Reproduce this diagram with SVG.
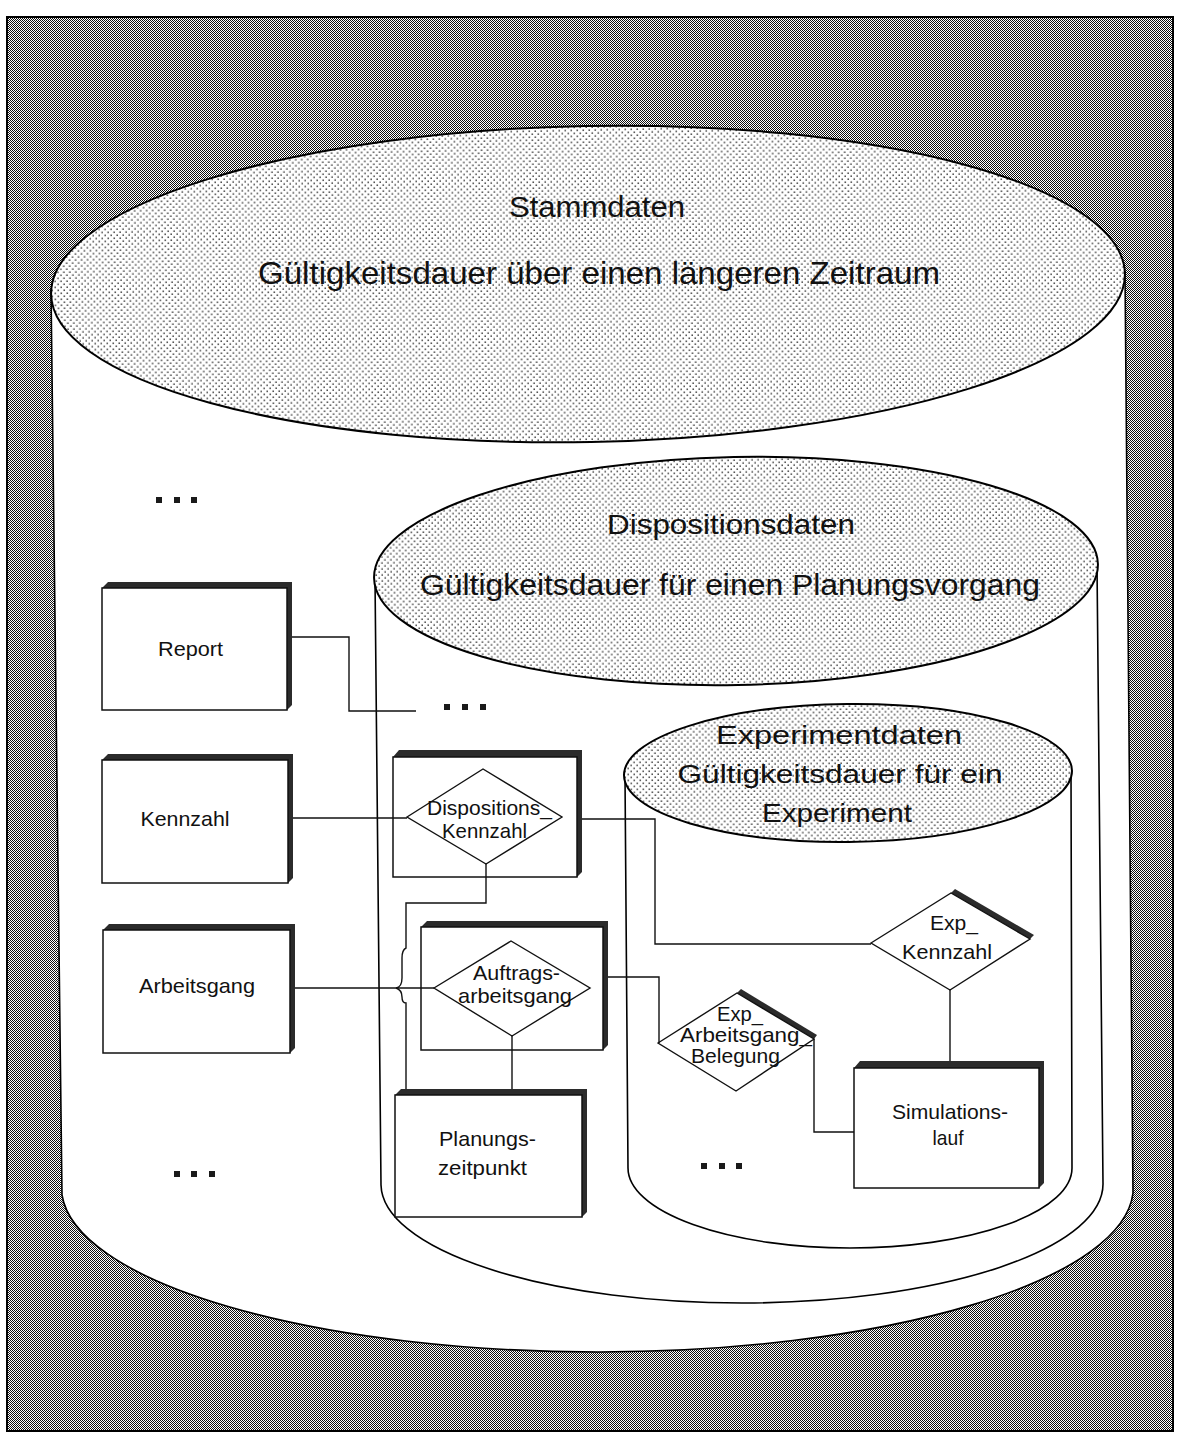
<svg xmlns="http://www.w3.org/2000/svg" width="1179" height="1435" viewBox="0 0 1179 1435">
  <defs>
    <!-- fine checker screen used for the surrounding field -->
    <pattern id="screen" width="2" height="2" patternUnits="userSpaceOnUse">
      <rect width="2" height="2" fill="#fff"/>
      <rect width="1" height="1" fill="#111"/>
      <rect x="1" y="1" width="1" height="1" fill="#111"/>
    </pattern>
    <!-- sparse stipple used on the cylinder lids -->
    <pattern id="stipple" width="6" height="6" patternUnits="userSpaceOnUse">
      <rect width="6" height="6" fill="#fff"/>
      <rect x="0.5" y="0.5" width="1.4" height="1.4" fill="#222"/>
      <rect x="3.5" y="3.5" width="1.4" height="1.4" fill="#222"/>
    </pattern>
    <style>
      .frame { fill: url(#screen); stroke: #000; stroke-width: 2; }
      .body { fill: #fff; stroke: #000; stroke-width: 1.6; }
      .lid { fill: url(#stipple); stroke: #000; stroke-width: 2; }
      .box { fill: #fff; stroke: #111; stroke-width: 1.5; }
      .shade { fill: #2b2b2b; }
      .rel { fill: #fff; stroke: #111; stroke-width: 1.4; }
      .wire { fill: none; stroke: #111; stroke-width: 1.4; }
      .more { fill: #1a1a1a; }
      .lbl { font-family: "Liberation Sans", Arial, sans-serif; font-size: 21px; fill: #111; text-anchor: middle; }
      .head { font-family: "Liberation Sans", Arial, sans-serif; fill: #111; text-anchor: middle; }
    </style>
  </defs>

  <!-- background field -->
  <rect class="frame" x="7" y="17" width="1166" height="1414"/>

  <!-- Stammdaten cylinder -->
  <g id="stammdaten">
    <path class="body" d="M51,290 L62,1195 A536,165 0 0 0 1133,1193 L1125,272 Z"/>
    <ellipse class="lid" cx="588" cy="284" rx="537" ry="158" transform="rotate(-1.1 588 284)"/>
    <text class="head" x="597" y="217" font-size="30" textLength="176" lengthAdjust="spacingAndGlyphs">Stammdaten</text>
    <text class="head" x="599" y="284" font-size="32" textLength="682" lengthAdjust="spacingAndGlyphs">Gültigkeitsdauer über einen längeren Zeitraum</text>
  </g>

  <!-- Dispositionsdaten cylinder -->
  <g id="dispositionsdaten">
    <path class="body" d="M375,578 L381,1185 A361,119 0 0 0 1103,1183 L1097,565 Z"/>
    <ellipse class="lid" cx="736" cy="571" rx="362" ry="114" transform="rotate(-1.1 736 571)"/>
    <text class="head" x="731" y="534" font-size="28" textLength="248" lengthAdjust="spacingAndGlyphs">Dispositionsdaten</text>
    <text class="head" x="730" y="595" font-size="30" textLength="620" lengthAdjust="spacingAndGlyphs">Gültigkeitsdauer für einen Planungsvorgang</text>
  </g>

  <!-- Experimentdaten cylinder -->
  <g id="experimentdaten">
    <path class="body" d="M625,776 L628,1168 A222,80 0 0 0 1072,1168 L1071,771 Z"/>
    <ellipse class="lid" cx="848" cy="773" rx="224" ry="69" transform="rotate(-0.6 848 773)"/>
    <text class="head" x="839" y="744" font-size="26" textLength="246" lengthAdjust="spacingAndGlyphs">Experimentdaten</text>
    <text class="head" x="840" y="783" font-size="26" textLength="325" lengthAdjust="spacingAndGlyphs">Gültigkeitsdauer für ein</text>
    <text class="head" x="837" y="822" font-size="26" textLength="150" lengthAdjust="spacingAndGlyphs">Experiment</text>
  </g>

  <!-- entities -->
  <g id="report">
    <polygon class="shade" points="102,588 108,582 292,582 292,705 287,710 287,588"/>
    <rect class="box" x="102" y="588" width="185" height="122"/>
    <text class="lbl" x="190.5" y="656" textLength="65" lengthAdjust="spacingAndGlyphs">Report</text>
  </g>

  <g id="kennzahl">
    <polygon class="shade" points="102,760 108,754 293,754 293,878 288,883 288,760"/>
    <rect class="box" x="102" y="760" width="186" height="123"/>
    <text class="lbl" x="185" y="826" textLength="89" lengthAdjust="spacingAndGlyphs">Kennzahl</text>
  </g>

  <g id="arbeitsgang">
    <polygon class="shade" points="103,930 109,924 295,924 295,1048 290,1053 290,930"/>
    <rect class="box" x="103" y="930" width="187" height="123"/>
    <text class="lbl" x="197" y="993" textLength="116" lengthAdjust="spacingAndGlyphs">Arbeitsgang</text>
  </g>

  <g id="dispositions-kennzahl">
    <polygon class="shade" points="393,757 399,750 582,750 582,872 577,877 577,757"/>
    <rect class="box" x="393" y="757" width="184" height="120"/>
    <polygon class="rel" points="407,817 483,769 562,817 486,864"/>
    <text class="lbl" x="489.5" y="815" textLength="125" lengthAdjust="spacingAndGlyphs">Dispositions_</text>
    <text class="lbl" x="484.5" y="838" textLength="85" lengthAdjust="spacingAndGlyphs">Kennzahl</text>
  </g>

  <g id="auftragsarbeitsgang">
    <polygon class="shade" points="421,927 427,921 608,921 608,1045 603,1050 603,927"/>
    <rect class="box" x="421" y="927" width="182" height="123"/>
    <polygon class="rel" points="434,988 511,941 590,988 512,1036"/>
    <text class="lbl" x="516.5" y="980" textLength="87" lengthAdjust="spacingAndGlyphs">Auftrags-</text>
    <text class="lbl" x="515" y="1003" textLength="114" lengthAdjust="spacingAndGlyphs">arbeitsgang</text>
  </g>

  <g id="planungszeitpunkt">
    <polygon class="shade" points="395,1095 401,1089 587,1089 587,1212 582,1217 582,1095"/>
    <rect class="box" x="395" y="1095" width="187" height="122"/>
    <text class="lbl" x="487.5" y="1146" textLength="97" lengthAdjust="spacingAndGlyphs">Planungs-</text>
    <text class="lbl" x="482.5" y="1175" textLength="89" lengthAdjust="spacingAndGlyphs">zeitpunkt</text>
  </g>

  <g id="simulationslauf">
    <polygon class="shade" points="854,1068 860,1061 1044,1061 1044,1183 1039,1188 1039,1068"/>
    <rect class="box" x="854" y="1068" width="185" height="120"/>
    <text class="lbl" x="950" y="1119" textLength="116" lengthAdjust="spacingAndGlyphs">Simulations-</text>
    <text class="lbl" x="948" y="1145" textLength="31" lengthAdjust="spacingAndGlyphs">lauf</text>
  </g>

  <g id="exp-kennzahl">
    <polygon class="shade" points="951,893 955,889 1034,935 1030,939"/>
    <polygon class="rel" points="871,943 951,893 1030,939 950,990"/>
    <text class="lbl" x="954" y="930" textLength="48" lengthAdjust="spacingAndGlyphs">Exp_</text>
    <text class="lbl" x="947" y="959" textLength="90" lengthAdjust="spacingAndGlyphs">Kennzahl</text>
  </g>

  <g id="exp-arbeitsgang-belegung">
    <polygon class="shade" points="737,993 741,989 817,1035 814,1039"/>
    <polygon class="rel" points="658,1043 737,993 814,1039 736,1091"/>
    <text class="lbl" x="740" y="1021" textLength="46" lengthAdjust="spacingAndGlyphs">Exp_</text>
    <text class="lbl" x="746" y="1042" textLength="132" lengthAdjust="spacingAndGlyphs">Arbeitsgang_</text>
    <text class="lbl" x="735.5" y="1063" textLength="89" lengthAdjust="spacingAndGlyphs">Belegung</text>
  </g>

  <!-- relationships -->
  <g id="connectors">
    <path class="wire" d="M292,637 H349 V711 H416"/>
    <path class="wire" d="M293,818 H407"/>
    <path class="wire" d="M582,819 H655 V944 H871"/>
    <path class="wire" d="M486,864 V903 H406 V948 Q402,950 402,958 V978 Q402,987 396,988 Q402,990 402,997 Q402,1003 406,1003 V1089"/>
    <path class="wire" d="M295,988 H434"/>
    <path class="wire" d="M512,1036 V1089"/>
    <path class="wire" d="M608,977 H659 V1043"/>
    <path class="wire" d="M814,1039 V1132 H854"/>
    <path class="wire" d="M950,990 V1061"/>
  </g>

  <!-- continuation marks -->
  <g id="ellipses">
    <rect class="more" x="156" y="497" width="6" height="6"/>
    <rect class="more" x="174" y="497" width="6" height="6"/>
    <rect class="more" x="191" y="497" width="6" height="6"/>
    <rect class="more" x="444" y="704" width="6" height="6"/>
    <rect class="more" x="462" y="704" width="6" height="6"/>
    <rect class="more" x="480" y="704" width="6" height="6"/>
    <rect class="more" x="174" y="1171" width="6" height="6"/>
    <rect class="more" x="191" y="1171" width="6" height="6"/>
    <rect class="more" x="209" y="1171" width="6" height="6"/>
    <rect class="more" x="701" y="1163" width="6" height="6"/>
    <rect class="more" x="719" y="1163" width="6" height="6"/>
    <rect class="more" x="736" y="1163" width="6" height="6"/>
  </g>
</svg>
